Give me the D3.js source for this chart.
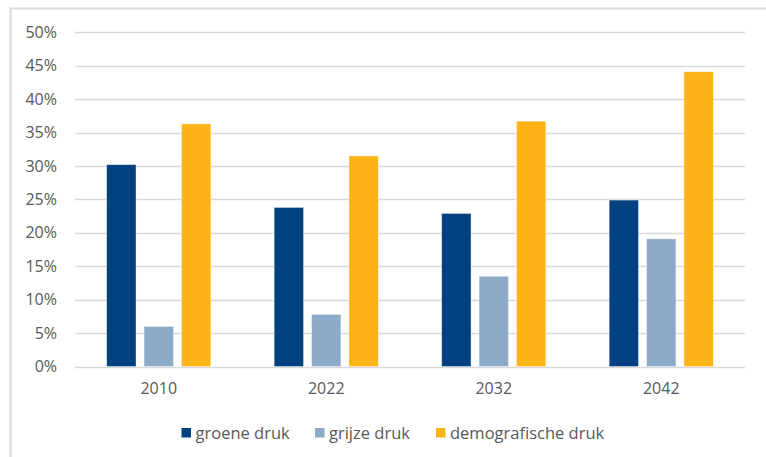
<!DOCTYPE html>
<html><head><meta charset="utf-8">
<script src="https://cdn.jsdelivr.net/npm/d3@7"></script>
<style>
html,body{margin:0;padding:0;background:#fff;}
svg{display:block;}
text{font-family:"Open Sans",Lato,sans-serif;fill:#595959;}
</style></head>
<body>
<svg id="chart" width="766" height="457"></svg>
<script>
const categories = ["2010","2022","2032","2042"];
const seriesNames = ["groene druk","grijze druk","demografische druk"];
const groene = [0.302, 0.238, 0.229, 0.249];
const grijze = [0.060, 0.078, 0.135, 0.191];
const demografisch = [0.363, 0.315, 0.367, 0.441];
const colors = ["#02417F","#8DAAC9","#FBB316"];
const yTicks = [0,0.05,0.10,0.15,0.20,0.25,0.30,0.35,0.40,0.45,0.50];

const values = [groene, grijze, demografisch];
const svg = d3.select("#chart");
const FONT = "'Open Sans', Lato, sans-serif";

// chart border (top and left visible)
svg.append("rect").attr("x",10.5).attr("y",8.5).attr("width",800).attr("height",500)
  .attr("fill","none").attr("stroke","#d9d9d9").attr("stroke-width",2);

const plot = {left:75, right:745, top:32.3, bottom:366.5};
const x0 = d3.scaleBand().domain(categories).range([plot.left, plot.right]).paddingInner(0.378).paddingOuter(0.189);
const x1 = d3.scaleBand().domain(seriesNames).range([0, x0.bandwidth()]).paddingInner(0.215);
const y = d3.scaleLinear().domain([0,0.5]).range([plot.bottom, plot.top]);

// gridlines
svg.append("g").selectAll("line").data(yTicks).join("line")
  .attr("x1",plot.left).attr("x2",plot.right)
  .attr("y1",d=>Math.round(y(d))+0.5).attr("y2",d=>Math.round(y(d))+0.5)
  .attr("stroke","#d9d9d9").attr("stroke-width",1.5);

// y axis labels
const yAxis = d3.axisLeft(y).tickValues(yTicks).tickFormat(d3.format(".0%")).tickSize(0).tickPadding(18);
const gy = svg.append("g").attr("transform",`translate(${plot.left},0)`).call(yAxis);
gy.select(".domain").remove();
gy.selectAll("text").attr("font-size","16px").style("font-family",FONT).attr("fill","#595959");

// bars
const groups = svg.append("g").selectAll("g").data(categories).join("g")
  .attr("transform",d=>`translate(${x0(d)},0)`);
groups.selectAll("rect").data((c,i)=>seriesNames.map((s,j)=>({s, v:values[j][i], j})))
  .join("rect")
  .attr("x",d=>x1(d.s)).attr("width",x1.bandwidth())
  .attr("y",d=>y(d.v)).attr("height",d=>y(0)-y(d.v))
  .attr("fill",d=>colors[d.j])
  .attr("stroke","#ffffff").attr("stroke-opacity",0.5).attr("stroke-width",0.8);

// x axis
const xAxis = d3.axisBottom(x0).tickSize(0).tickPadding(16);
const gx = svg.append("g").attr("transform",`translate(0,${plot.bottom})`).call(xAxis);
gx.select(".domain").remove();
gx.selectAll("text").attr("font-size","16px").style("font-family",FONT).attr("fill","#595959");

// legend
const legendX = [181.5, 315, 436];
const lg = svg.append("g").selectAll("g").data(seriesNames).join("g")
  .attr("transform",(d,i)=>`translate(${legendX[i]},428)`);
lg.append("rect").attr("width",9.5).attr("height",9.5).attr("fill",(d,i)=>colors[i]);
lg.append("text").attr("x",14).attr("y",11).attr("font-size","16.5px").style("font-family",FONT).text(d=>d);
</script>
</body></html>
